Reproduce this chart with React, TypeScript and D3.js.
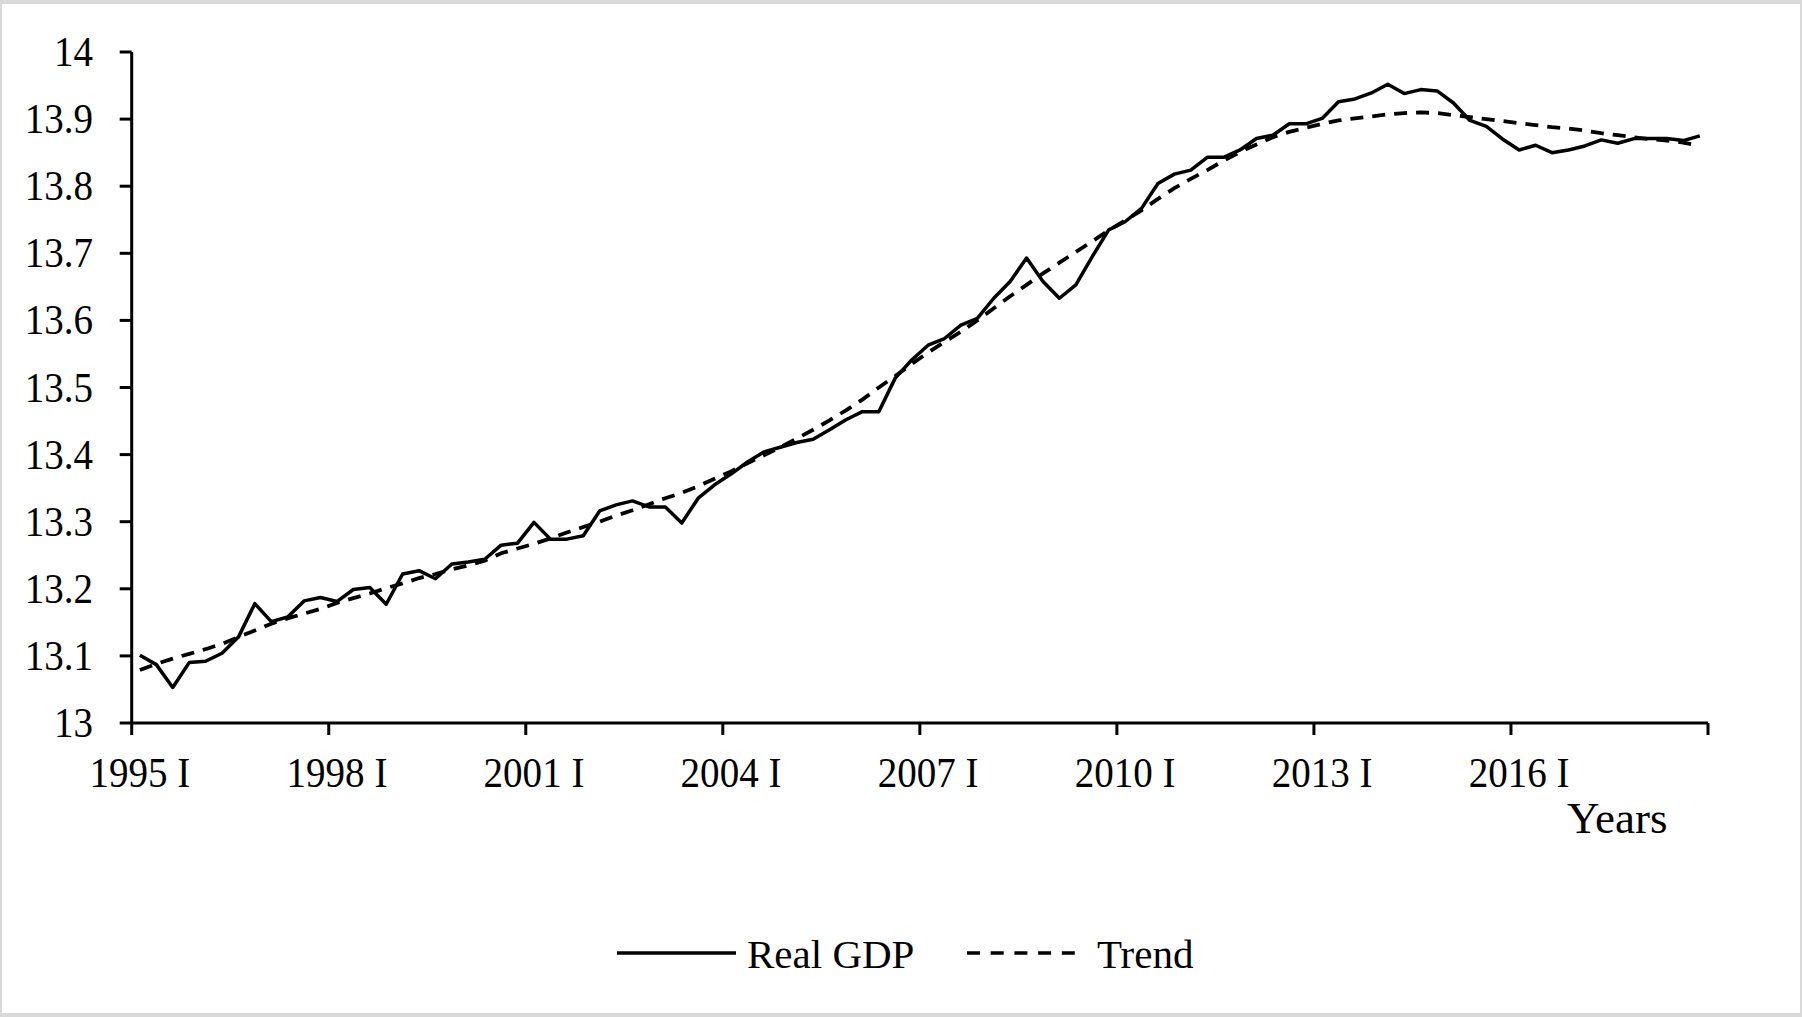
import React, { useEffect } from 'react';
import * as d3 from 'd3';

// Quarterly categories 1995 I – 2018 IV
const startYear = 1995;
const endYear = 2018;
const quarterNames = ['I', 'II', 'III', 'IV'];

const realGDP: number[] = [
  13.101, 13.087, 13.053, 13.090, 13.092, 13.104, 13.128, 13.178, 13.151, 13.158,
  13.182, 13.187, 13.181, 13.199, 13.202, 13.177, 13.222, 13.227, 13.215, 13.237,
  13.240, 13.244, 13.265, 13.268, 13.299, 13.274, 13.274, 13.279, 13.316, 13.325,
  13.331, 13.322, 13.322, 13.298, 13.335, 13.355, 13.371, 13.389, 13.404, 13.411,
  13.418, 13.423, 13.437, 13.452, 13.464, 13.464, 13.514, 13.541, 13.563, 13.573,
  13.593, 13.603, 13.633, 13.658, 13.693, 13.658, 13.633, 13.653, 13.695, 13.735,
  13.747, 13.767, 13.804, 13.818, 13.824, 13.843, 13.843, 13.854, 13.871, 13.876,
  13.893, 13.893, 13.901, 13.926, 13.930, 13.939, 13.952, 13.938, 13.944, 13.942,
  13.924, 13.898, 13.889, 13.870, 13.854, 13.861, 13.850, 13.854, 13.860, 13.869,
  13.864, 13.871, 13.871, 13.871, 13.868, 13.875,
];

const trend: number[] = [
  13.079, 13.088, 13.096, 13.103, 13.110, 13.118, 13.128, 13.138, 13.148, 13.156,
  13.163, 13.170, 13.179, 13.186, 13.193, 13.201, 13.208, 13.216, 13.222, 13.229,
  13.235, 13.242, 13.253, 13.260, 13.267, 13.275, 13.284, 13.292, 13.300, 13.309,
  13.317, 13.326, 13.335, 13.343, 13.353, 13.364, 13.375, 13.387, 13.399, 13.411,
  13.424, 13.437, 13.451, 13.466, 13.482, 13.500, 13.517, 13.535, 13.552, 13.568,
  13.583, 13.600, 13.618, 13.636, 13.653, 13.670, 13.686, 13.702, 13.718, 13.734,
  13.749, 13.764, 13.781, 13.797, 13.811, 13.824, 13.838, 13.851, 13.862, 13.873,
  13.881, 13.887, 13.893, 13.898, 13.901, 13.904, 13.907, 13.909, 13.910, 13.909,
  13.906, 13.903, 13.900, 13.897, 13.894, 13.891, 13.888, 13.886, 13.883, 13.879,
  13.876, 13.873, 13.870, 13.868, 13.865, 13.860,
];

const yTicks: number[] = [13, 13.1, 13.2, 13.3, 13.4, 13.5, 13.6, 13.7, 13.8, 13.9, 14];
const xLabelEvery = 12;

const categories: string[] = [];
for (let y = startYear; y <= endYear; y++) {
  for (const q of quarterNames) categories.push(`${y} ${q}`);
}

const W = 1802;
const H = 1017;
const FONT = "'Liberation Serif', 'Times New Roman', serif";

export default function App() {
  useEffect(() => {
    document.body.style.margin = '0';
  }, []);

  const x = d3
    .scaleBand<number>()
    .domain(d3.range(categories.length))
    .range([131.7, 1708])
    .paddingInner(0)
    .paddingOuter(0);
  const bw = x.bandwidth();
  const cx = (i: number) => (x(i) as number) + bw / 2;
  const y = d3.scaleLinear().domain([13, 14]).range([723, 52]);

  const line = d3
    .line<number>()
    .x((_, i) => cx(i))
    .y((d) => y(d));

  const x0 = 131.7;
  const xEnd = 1708;
  const tickIdx = d3.range(0, categories.length, xLabelEvery);
  const boundaries = [...tickIdx.map((i) => x(i) as number), xEnd];

  return (
    <div style={{ position: 'absolute', left: 0, top: 0 }}>
      <svg width={W} height={H} style={{ display: 'block', background: '#fff' }}>
        {/* frame */}
        <rect x={0} y={0} width={W} height={4} fill="#d9d9d9" />
        <rect x={0} y={1013} width={W} height={4} fill="#d9d9d9" />
        <rect x={0} y={0} width={2} height={H} fill="#d9d9d9" />
        <rect x={1800} y={0} width={2} height={H} fill="#d9d9d9" />

        {/* axes */}
        <g stroke="#000" strokeWidth={3} fill="none">
          <line x1={x0} y1={y(14)} x2={x0} y2={y(13)} />
          <line x1={x0} y1={y(13)} x2={xEnd} y2={y(13)} />
          {yTicks.map((t) => (
            <line key={t} x1={x0 - 12} x2={x0} y1={y(t)} y2={y(t)} />
          ))}
          {boundaries.map((b, k) => (
            <line key={k} x1={b} x2={b} y1={y(13)} y2={y(13) + 12} />
          ))}
        </g>

        {/* y tick labels */}
        <g fontFamily={FONT} fontSize={42} fill="#000" textAnchor="end">
          {yTicks.map((t) => (
            <text key={t} transform={`translate(93,${y(t) + 14}) scale(0.93,1)`}>
              {d3.format('')(+t.toFixed(1))}
            </text>
          ))}
        </g>

        {/* x tick labels */}
        <g fontFamily={FONT} fontSize={42} fill="#000" textAnchor="middle">
          {tickIdx.map((i) => (
            <text key={i} transform={`translate(${cx(i)},787) scale(0.93,1)`}>
              {categories[i]}
            </text>
          ))}
        </g>
        <text x={1567} y={833} fontFamily={FONT} fontSize={45} fill="#000">
          Years
        </text>

        {/* series */}
        <path
          d={line(trend) || ''}
          fill="none"
          stroke="#000"
          strokeWidth={3.8}
          strokeDasharray="13 9"
        />
        <path
          d={line(realGDP) || ''}
          fill="none"
          stroke="#000"
          strokeWidth={3.5}
          strokeLinejoin="round"
        />

        {/* legend */}
        <g fontFamily={FONT} fontSize={41} fill="#000">
          <line x1={617} x2={736} y1={953} y2={953} stroke="#000" strokeWidth={3.5} />
          <text x={747} y={968}>Real GDP</text>
          <line
            x1={967}
            x2={1075}
            y1={953}
            y2={953}
            stroke="#000"
            strokeWidth={3.5}
            strokeDasharray="13 10.7"
          />
          <text x={1097} y={968}>Trend</text>
        </g>
      </svg>
    </div>
  );
}
